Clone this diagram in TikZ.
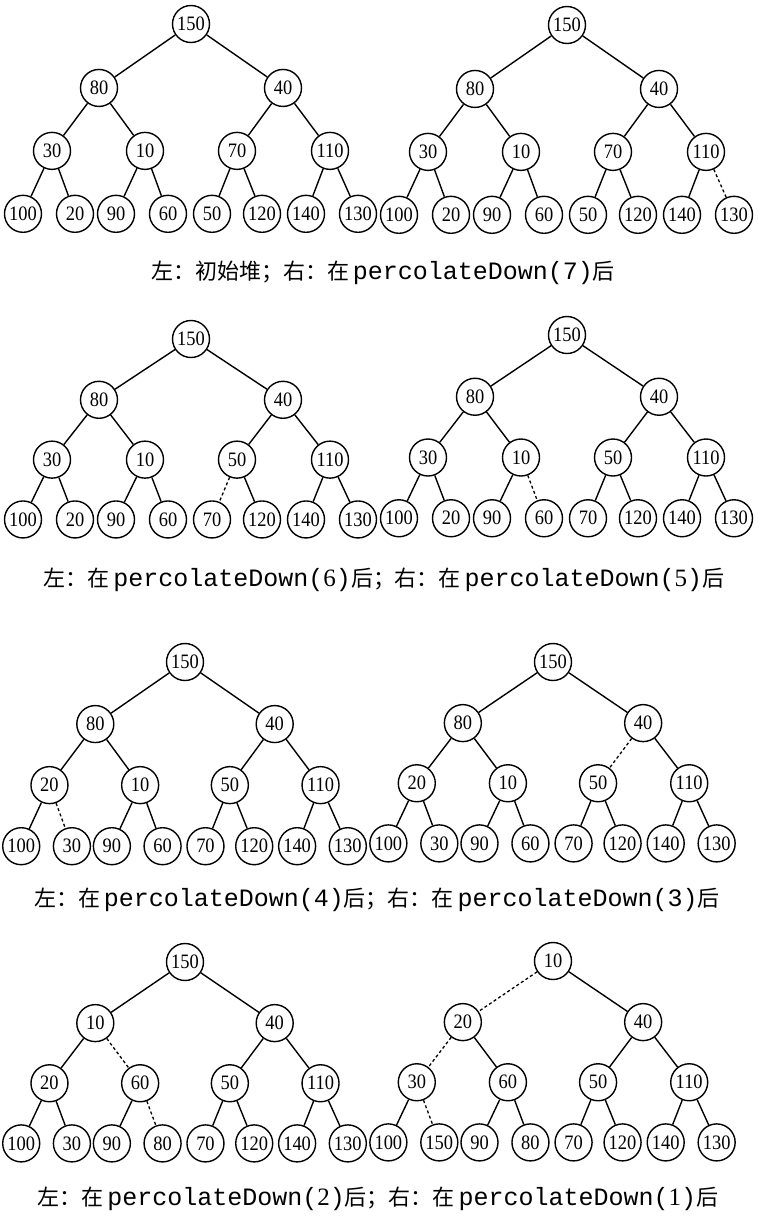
\documentclass[tikz,border=0pt]{standalone}
\usepackage{fontspec}
\usepackage{graphicx}
\setmainfont{Liberation Serif}
\newfontfamily\cjk{Noto Sans CJK SC}
\newfontfamily\mono{Liberation Mono}
\tikzset{
  hnode/.style={circle,draw,line width=1.4pt,minimum size=37pt,inner sep=0pt,
    font=\fontsize{20.5}{20}\selectfont},
  hedge/.style={line width=1.4pt},
  hdash/.style={line width=1.3pt,dash pattern=on 3pt off 2.5pt},
  capnode/.style={inner sep=0pt,font=\fontsize{22}{24}\selectfont},
}
\newcommand\nl[1]{\scalebox{0.9}[1]{#1}}
\newcommand\cm[1]{{\mono\fontsize{25}{25}\selectfont #1}}
\newcommand\cs[1]{{\fontsize{25}{25}\selectfont #1}}
\newcommand\heaptree[8]{%
  \foreach \lab [count=\i] in {#6} {
    \pgfmathsetmacro\dx{{0,-92,92,-139,-46,46,139,-168,-116,-75,-23,21,71,115,167}[\i-1]}
    \pgfmathsetmacro\dy{{0,63,63,125,125,125,125,187,187,187,187,187,187,187,187}[\i-1]}
    \node[hnode] (#1-\i) at ({#2+#4*\dx},{#3+#5*\dy}) {\nl{\lab}};
  }
  \foreach \c in {#7} {
    \pgfmathtruncatemacro\p{\c/2}
    \draw[hedge] (#1-\p) -- (#1-\c);
  }
  \foreach \c in {#8} {
    \pgfmathtruncatemacro\p{\c/2}
    \draw[hdash] (#1-\p) -- (#1-\c);
  }
}
\begin{document}
\begin{tikzpicture}[x=1pt,y=-1pt]
\useasboundingbox (0,0) rectangle (759,1219);
% row 1
\heaptree{a}{191}{24}{1.0}{1.015}{150,80,40,30,10,70,110,100,20,90,60,50,120,140,130}{2,3,4,5,6,7,8,9,10,11,12,13,14,15}{}
\heaptree{b}{567}{25}{1.0}{1.015}{150,80,40,30,10,70,110,100,20,90,60,50,120,140,130}{2,3,4,5,6,7,8,9,10,11,12,13,14}{15}
\node[capnode] (cap1) at (383,273) {{\cjk 左：初始堆；右：在\,}\cm{percolateDown(7)}{\cjk 后}};
% row 2
\heaptree{c}{191}{339}{1.0}{0.965}{150,80,40,30,10,50,110,100,20,90,60,70,120,140,130}{2,3,4,5,6,7,8,9,10,11,13,14,15}{12}
\heaptree{d}{567}{335}{1.0}{0.98}{150,80,40,30,10,50,110,100,20,90,60,70,120,140,130}{2,3,4,5,6,7,8,9,10,12,13,14,15}{11}
\node[capnode] (cap2) at (384,580) {{\cjk 左：在\,}\cm{percolateDown(}\cs{6}\cm{)}{\cjk 后；右：在\,}\cm{percolateDown(}\cs{5}\cm{)}{\cjk 后}};
% row 3
\heaptree{e}{185}{662}{0.975}{0.985}{150,80,40,20,10,50,110,100,30,90,60,70,120,140,130}{2,3,4,5,6,7,8,10,11,12,13,14,15}{9}
\heaptree{f}{553}{662}{0.98}{0.97}{150,80,40,20,10,50,110,100,30,90,60,70,120,140,130}{2,3,4,5,7,8,9,10,11,12,13,14,15}{6}
\node[capnode] (cap3) at (377,900) {{\cjk 左：在\,}\cm{percolateDown(4)}{\cjk 后；右：在\,}\cm{percolateDown(3)}{\cjk 后}};
% row 4
\heaptree{g}{185}{962}{0.975}{0.97}{150,10,40,20,60,50,110,100,30,90,80,70,120,140,130}{2,3,4,6,7,8,9,10,12,13,14,15}{5,11}
\heaptree{h}{553}{961}{0.98}{0.97}{10,20,40,30,60,50,110,100,150,90,80,70,120,140,130}{3,5,6,7,8,10,11,12,13,14,15}{2,4,9}
\node[capnode] (cap4) at (378,1199) {{\cjk 左：在\,}\cm{percolateDown(}\cs{2}\cm{)}{\cjk 后；右：在\,}\cm{percolateDown(}\cs{1}\cm{)}{\cjk 后}};
\end{tikzpicture}
\end{document}
